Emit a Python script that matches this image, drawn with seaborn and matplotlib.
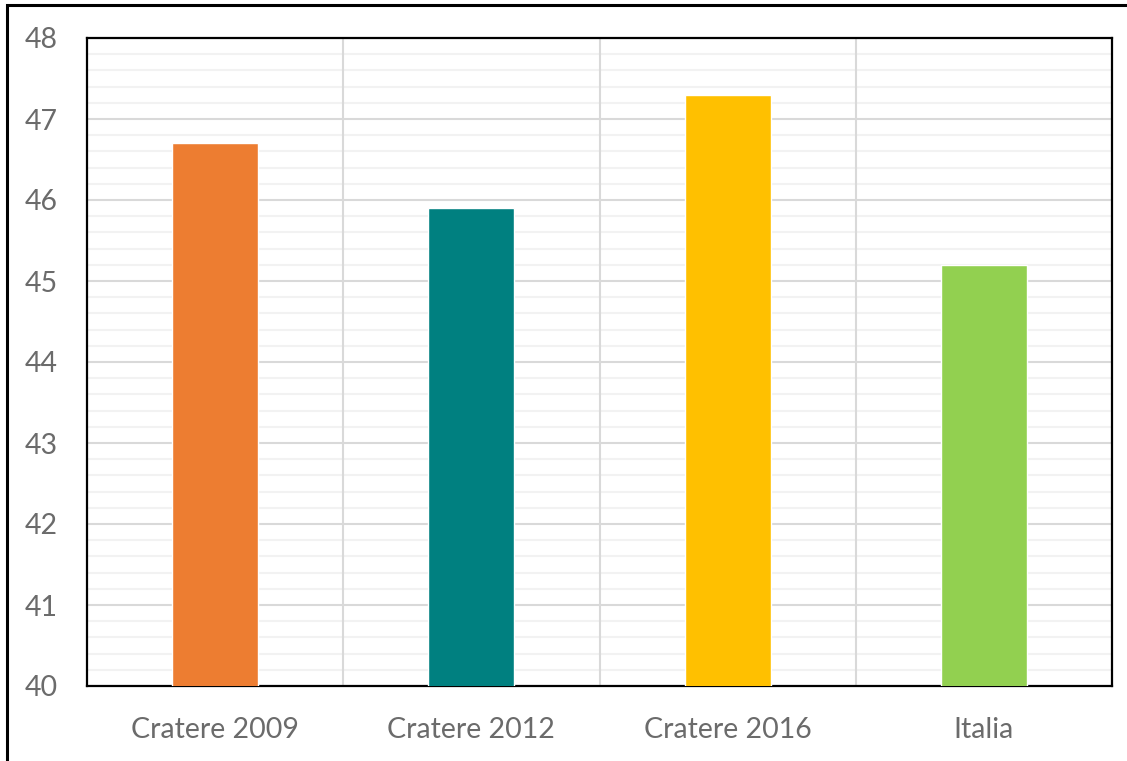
import matplotlib
matplotlib.use("Agg")
import matplotlib.pyplot as plt
import seaborn as sns
import pandas as pd
from matplotlib.patches import Rectangle
from matplotlib.ticker import MultipleLocator

categories = ["Cratere 2009", "Cratere 2012", "Cratere 2016", "Italia"]
values = [46.7, 45.9, 47.3, 45.2]
colors = ["#ED7D31", "#008080", "#FFC000", "#92D050"]
yticks = [40, 41, 42, 43, 44, 45, 46, 47, 48]

sns.set_style("white")
plt.rcParams["font.family"] = ["Lato", "DejaVu Sans"]

W, H = 1127, 761
fig = plt.figure(figsize=(W / 100, H / 100), dpi=100)
ax = fig.add_axes([87 / W, 1 - 686 / H, (1112 - 87) / W, (686 - 38) / H])

df = pd.DataFrame({"cat": categories, "val": values})
sns.barplot(data=df, x="cat", y="val", hue="cat", palette=colors, width=0.336,
            legend=False, ax=ax, saturation=1, zorder=3)

ax.set_ylim(40, 48)
ax.set_xlim(-0.5, 3.5)
ax.set_yticks(yticks)
ax.yaxis.set_minor_locator(MultipleLocator(0.2))
ax.grid(axis="y", which="major", color="#D9D9D9", linewidth=1.5, zorder=0)
ax.grid(axis="y", which="minor", color="#F2F2F2", linewidth=1.5, zorder=0)
for xv in [0.5, 1.5, 2.5]:
    ax.axvline(xv, color="#D9D9D9", linewidth=1.5, zorder=1)
ax.set_axisbelow(True)

for s in ax.spines.values():
    s.set_visible(True)
    s.set_color("black")
    s.set_linewidth(1.6)

ax.set_xlabel("")
ax.set_ylabel("")
ax.tick_params(axis="both", which="both", length=0, colors="#6B6B6B", labelsize=20.5)
ax.tick_params(axis="y", pad=21)
ax.tick_params(axis="x", pad=22)

fig.patches.append(Rectangle((7 / W, -0.1), 1.2, 1 - 5 / H + 0.1, transform=fig.transFigure,
                             fill=False, edgecolor="black", linewidth=2.2, zorder=10))

fig.savefig("out.png", dpi=100, facecolor="white")
